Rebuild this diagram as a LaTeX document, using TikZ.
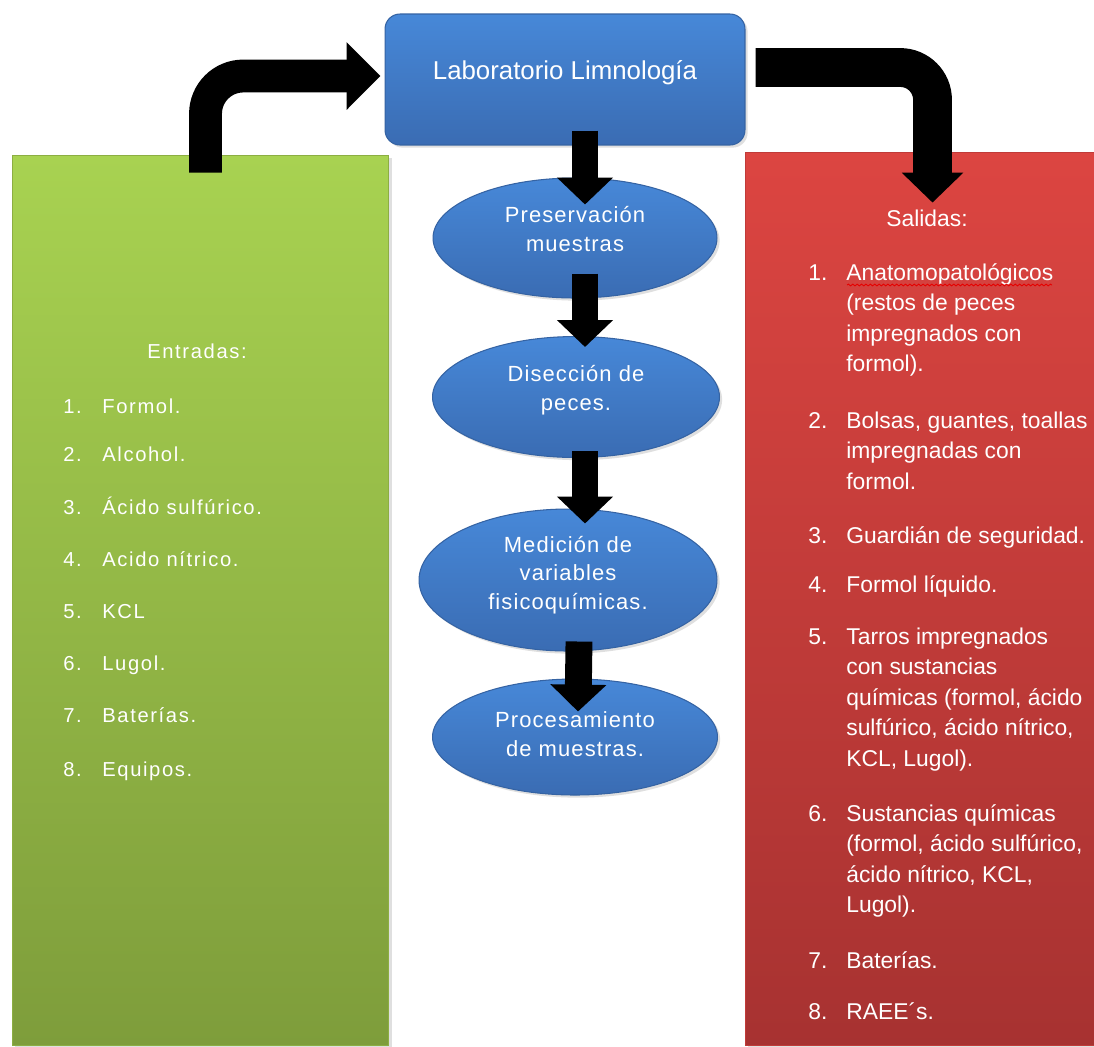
\documentclass[tikz,border=0pt]{standalone}
\usepackage{fontspec}
\setmainfont{Liberation Sans}
\newfontfamily\gfont[LetterSpace=8]{Liberation Sans}
\newfontfamily\efont[LetterSpace=5]{Liberation Sans}
\usetikzlibrary{arrows.meta,shapes.geometric,calc,shadows,decorations.pathmorphing}
\definecolor{bluetop}{HTML}{4788D8}
\definecolor{bluebot}{HTML}{3A6CB3}
\definecolor{blueedge}{HTML}{3563A3}
\definecolor{greentop}{HTML}{A8D251}
\definecolor{greenbot}{HTML}{7E9D3B}
\definecolor{greenedge}{HTML}{8CAE42}
\definecolor{redtop}{HTML}{DC4541}
\definecolor{redbot}{HTML}{A73231}
\definecolor{rededge}{HTML}{C03B39}
\begin{document}
\begin{tikzpicture}[x=0.02cm,y=-0.02cm,
  panel/.style={rectangle, inner sep=0pt, line width=0.6pt,
    drop shadow={opacity=0.25, shadow xshift=1.5pt, shadow yshift=-1.5pt}},
  labbox/.style={panel, rounded corners=8.5pt, top color=bluetop, bottom color=bluebot,
    draw=blueedge, minimum width=7.2cm, minimum height=2.62cm, text=white,
    font=\fontsize{14.7pt}{17pt}\selectfont, text height=10pt, text depth=10pt},
  proc/.style={ellipse, inner sep=0pt, top color=bluetop, bottom color=bluebot,
    draw=blueedge, line width=0.6pt,
    drop shadow={opacity=0.25, shadow xshift=1.5pt, shadow yshift=-1.5pt}},
  proctext/.style={align=center, inner sep=0pt, text=white,
    font=\efont\fontsize{12.5pt}{16.4pt}\selectfont},
  gnum/.style={anchor=base west, inner sep=0pt, text=white,
    font=\gfont\fontsize{11.5pt}{14pt}\selectfont},
  gtitle/.style={gnum, anchor=base},
  rnum/.style={anchor=base west, inner sep=0pt, text=white, align=left,
    font=\fontsize{13pt}{17.3pt}\selectfont},
  rtitle/.style={rnum, anchor=base},
  downarr/.style={draw=black, line width=15.3pt, -{Triangle[width=31pt,length=15.3pt]}},
  bentL/.style={draw=black, line width=18.7pt, rounded corners=21.5pt,
    -{Triangle[width=37.4pt,length=19.3pt]}},
  bentR/.style={draw=black, line width=22.1pt, rounded corners=18.4pt,
    -{Triangle[width=34pt,length=17pt]}}
]
\useasboundingbox (0,0) rectangle (1094,1046);
\fill[white] (0,0) rectangle (1094,1046);

% panels
\node[panel, minimum width=7.54cm, minimum height=17.82cm, top color=greentop,
  bottom color=greenbot, draw=greenedge] (green) at (200.5,600.5) {};
\node[panel, minimum width=7.1cm, minimum height=17.88cm, top color=redtop,
  bottom color=redbot, draw=rededge] (red) at (922.5,599) {};
\node[labbox] (lab) at (565,79.5) {Laboratorio Limnología};

% process ellipses
\node[proc, minimum width=5.68cm, minimum height=2.4cm] (e1) at (575,238) {};
\node[proc, minimum width=5.74cm, minimum height=2.42cm] (e2) at (576,397) {};
\node[proc, minimum width=5.96cm, minimum height=2.84cm] (e3) at (568,580) {};
\node[proc, minimum width=5.7cm, minimum height=2.32cm] (e4) at (575,737) {};
\node[proctext] (t1) at (575,229) {Preservación\\muestras};
\node[proctext] (t2) at (576,390) {Disección de\\peces.};
\node[proctext] (t3) at (568,575) {Medición de\\variables\\fisicoquímicas.};
\node[proctext] (t4) at (575,734) {Procesamiento\\de muestras.};

% entradas
\node[gtitle] (entradas) at (197,358) {Entradas:};
\node[gnum] (g1n) at (63,413) {1.}; \node[gnum] (g1) at (102,413) {Formol.};
\node[gnum] (g2n) at (63,461) {2.}; \node[gnum] (g2) at (102,461) {Alcohol.};
\node[gnum] (g3n) at (63,514) {3.}; \node[gnum] (g3) at (102,514) {Ácido sulfúrico.};
\node[gnum] (g4n) at (63,566) {4.}; \node[gnum] (g4) at (102,566) {Acido nítrico.};
\node[gnum] (g5n) at (63,618) {5.}; \node[gnum] (g5) at (102,618) {KCL};
\node[gnum] (g6n) at (63,670) {6.}; \node[gnum] (g6) at (102,670) {Lugol.};
\node[gnum] (g7n) at (63,722) {7.}; \node[gnum] (g7) at (102,722) {Baterías.};
\node[gnum] (g8n) at (63,776) {8.}; \node[gnum] (g8) at (102,776) {Equipos.};

% salidas (multi-line nodes: base anchor = last line)
\node[rtitle] (salidas) at (927,226) {Salidas:};
\node[rnum] (r1n) at (808,280) {1.};
\node[rnum] (r1) at (846,371.5) {Anatomopatológicos\\(restos de peces\\impregnados con\\formol).};
\node[rnum] (r2n) at (808,428) {2.};
\node[rnum] (r2) at (846,489) {Bolsas, guantes, toallas\\impregnadas con\\formol.};
\node[rnum] (r3n) at (808,543) {3.};
\node[rnum] (r3) at (846,543) {Guardián de seguridad.};
\node[rnum] (r4n) at (808,592) {4.};
\node[rnum] (r4) at (846,592) {Formol líquido.};
\node[rnum] (r5n) at (808,644) {5.};
\node[rnum] (r5) at (846,766) {Tarros impregnados\\con sustancias\\químicas (formol, ácido\\sulfúrico, ácido nítrico,\\KCL, Lugol).};
\node[rnum] (r6n) at (808,821) {6.};
\node[rnum] (r6) at (846,912.5) {Sustancias químicas\\(formol, ácido sulfúrico,\\ácido nítrico, KCL,\\Lugol).};
\node[rnum] (r7n) at (808,968) {7.};
\node[rnum] (r7) at (846,968) {Baterías.};
\node[rnum] (r8n) at (808,1019) {8.};
\node[rnum] (r8) at (846,1019) {RAEE´s.};
\draw[red!90!black, line width=0.5pt, decorate,
  decoration={snake, amplitude=0.5pt, segment length=2.5pt}] (847,285) -- (1052,285);

% connectors
\draw[bentL] ($(green.north west)+(194,18)$) |- ($(lab.west)+(-4,-3.5)$);
\draw[bentR] ($(lab.east)+(10,-12)$) -| ($(red.north west)+(188,51)$);
\draw[downarr] ($(lab.south)+(20,-15)$) -- ($(e1.north)+(10,27)$);
\draw[downarr] ($(e1.south)+(10,-25)$) -- ($(e2.north)+(9,11)$);
\draw[downarr] ($(e2.south)+(9,-7)$) -- ($(e3.north)+(17,15)$);
\draw[downarr] ($(e3.south)+(11,-10)$) -- ($(e4.north)+(3,33)$);
\end{tikzpicture}
\end{document}
